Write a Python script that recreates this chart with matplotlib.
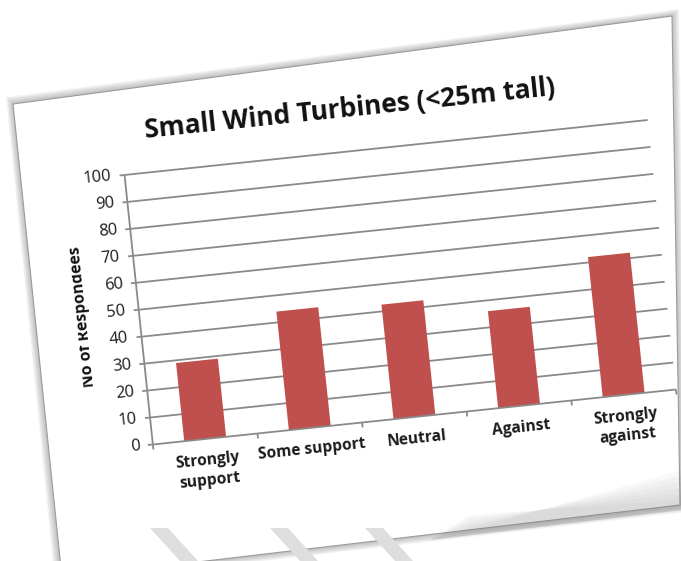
import numpy as np
import matplotlib
matplotlib.use("Agg")
import matplotlib.pyplot as plt
from matplotlib.patches import Polygon, Patch
from matplotlib.text import Text
from matplotlib.transforms import Affine2D, IdentityTransform

categories = ["Strongly\nsupport", "Some support", "Neutral", "Against", "Strongly\nagainst"]
respondees = [29, 44, 42.5, 36, 52]
y_ticks = [0, 10, 20, 30, 40, 50, 60, 70, 80, 90, 100]
title = "Small Wind Turbines (<25m tall)"
y_label = "No of Respondees"

W, H = 681, 561
ANGLE = 6.0
CX, CY = 400.25, 278.75      # pivot (display px) = centre of the plot area
PW, PH = 526, 271            # plot area size in px before tilting

plt.rcParams['font.family'] = ['Open Sans', 'DejaVu Sans']

fig = plt.figure(figsize=(W / 100, H / 100), dpi=100)
fig.patch.set_facecolor("white")


def flip(pts):
    # image coords (y down) -> display coords
    return [(x, H - y) for x, y in pts]


# the sheet of paper with a soft shadow
page = [(13, 104), (672, 16), (680, 505), (62, 578)]
grow = [(-1, -1), (1, -1), (1, 1), (-1, 1)]
for k in range(7, 0, -1):
    sh = [(x + gx * k, y + gy * k) for (x, y), (gx, gy) in zip(page, grow)]
    fig.add_artist(Polygon(flip(sh), closed=True, transform=IdentityTransform(),
                           facecolor="#707070", edgecolor="none", alpha=0.07, zorder=-10))
fig.add_artist(Polygon(flip(page), closed=True, transform=IdentityTransform(),
                       facecolor="white", edgecolor="#9a9a9a", lw=0.8, zorder=-9))

# curl shadow at the lower right of the page
for k in range(6):
    fig.add_artist(Polygon(flip([(681, 470 + 6 * k), (681, 510), (430, 540), (470, 530 - 3 * k)]),
                           closed=True, transform=IdentityTransform(),
                           facecolor="#808080", edgecolor="none", alpha=0.05, zorder=-8))

# faint marks showing through at the bottom of the page
for x0 in [180, 300, 395]:
    fig.add_artist(Polygon(flip([(x0, 561), (x0 + 18, 561), (x0 - 12, 528), (x0 - 30, 528)]),
                           closed=True, transform=IdentityTransform(),
                           facecolor="#dedede", edgecolor="none", zorder=-8))

ax = fig.add_axes([(CX - PW / 2) / W, (CY - PH / 2) / H, PW / W, PH / H])
ax.set_xlim(-0.5, len(categories) - 0.5)
ax.set_ylim(0, 100)
ax.axis("off")

x = np.arange(len(categories))
px_x = PW / len(categories)   # px per x unit
px_y = PH / 100               # px per y unit

grid_col = "#8a8a8a"
ax.hlines(y_ticks[1:], -0.5, len(categories) - 0.5, color=grid_col, lw=1.3, clip_on=False)
ax.bar(x, respondees, width=0.4, color="#c0504d", zorder=3, clip_on=False)
ax.vlines(-0.5, 0, 100, color=grid_col, lw=1.3, clip_on=False)
ax.hlines(0, -0.5, len(categories) - 0.5, color=grid_col, lw=1.3, clip_on=False, zorder=4)
# tick marks
ax.hlines(y_ticks, -0.5 - 5 / px_x, -0.5, color=grid_col, lw=1.3, clip_on=False)
ax.vlines(np.arange(len(categories) + 1) - 0.5, -5 / px_y, 0, color=grid_col, lw=1.3, clip_on=False)

for v in y_ticks:
    ax.text(-0.5 - 13 / px_x, v, str(v), ha="right", va="center",
            fontsize=11.8, color="#1a1a1a")

for i, lab in enumerate(categories):
    ax.text(i, -14 / px_y, lab, ha="center", va="top", fontsize=11.2,
            fontweight="bold", color="#1a1a1a", linespacing=1.3)

ax.text(0.44, 1.155, title, transform=ax.transAxes, ha="center", va="center",
        fontsize=19, fontweight="bold", color="#111111")

ax.text(-0.5 - 52 / px_x, 49.5, y_label, ha="center", va="baseline",
        rotation=90, fontsize=11.3, fontweight="bold", color="#111111")

# the tops of the axis title letters are cut off on the original page
cut = -0.5 - 63 / px_x
ax.add_patch(Polygon([(cut - 0.3, 15), (cut, 15), (cut, 85), (cut - 0.3, 85)], closed=True,
                     facecolor="white", edgecolor="none", zorder=10, clip_on=False))

# tilt everything drawn in the axes
rot = Affine2D().rotate_deg_around(CX, CY, ANGLE)
for art in list(ax.patches) + list(ax.collections) + list(ax.lines) + list(ax.texts):
    if isinstance(art, Patch):
        art.set_transform(art.get_data_transform() + rot)
    else:
        art.set_transform(art.get_transform() + rot)
    if isinstance(art, Text):
        art.set_rotation(art.get_rotation() + ANGLE)
        art.set_rotation_mode("anchor")

fig.savefig("out.png", dpi=100)
